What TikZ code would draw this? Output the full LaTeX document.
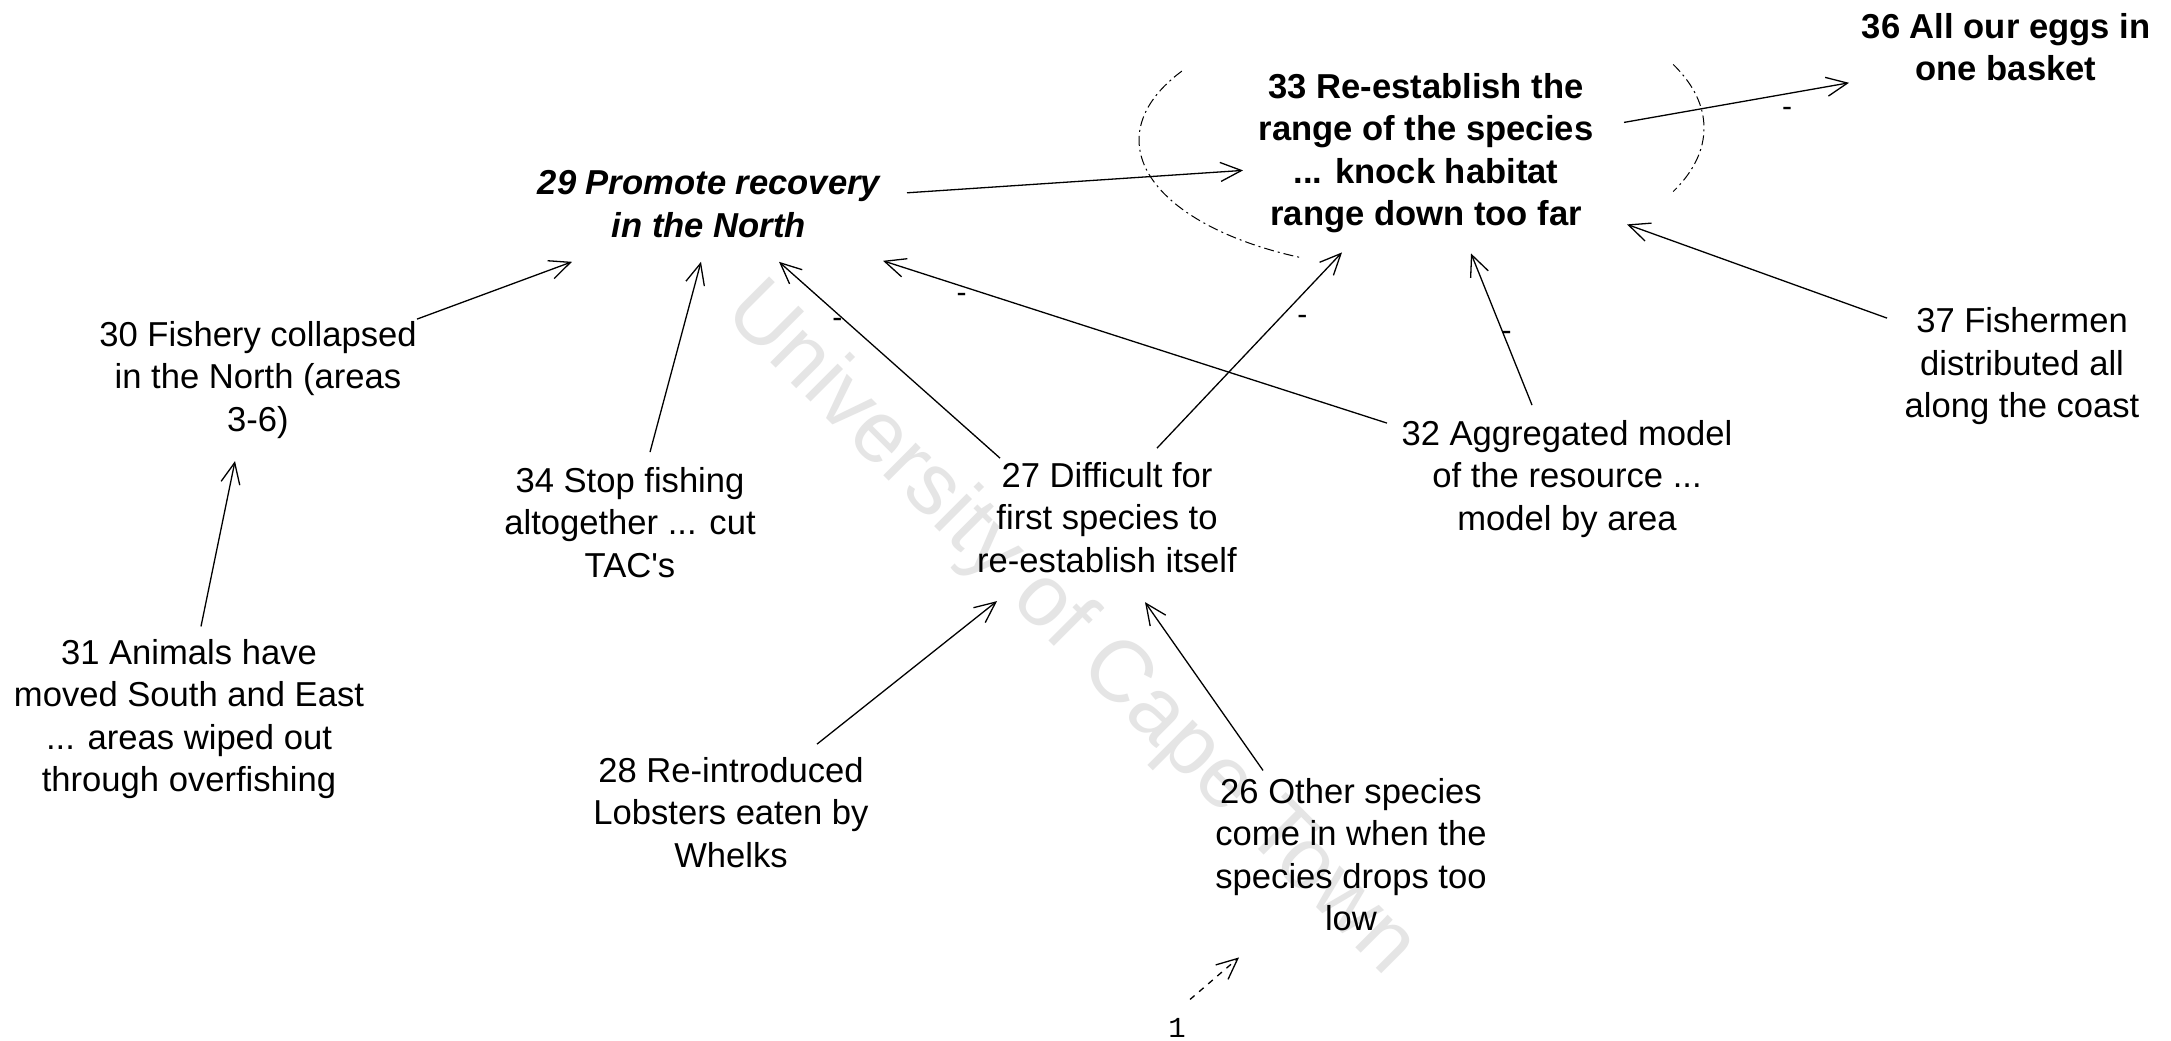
\documentclass[tikz,border=0pt]{standalone}
\usepackage{fontspec}
\setmainfont{Liberation Sans}
\newfontfamily\pagefont{Liberation Mono}
\usetikzlibrary{arrows.meta}

\begin{document}
\begin{tikzpicture}[x=0.5pt,y=-0.5pt,
  concept/.style={align=center, inner sep=0pt,
    font=\fontsize{17.3}{21.3}\selectfont,
    execute at begin node=\strut, execute at end node=\strut},
  strong/.style={concept, font=\fontsize{17.3}{21.3}\selectfont\bfseries},
  goal/.style={concept, font=\fontsize{17.3}{21.3}\selectfont\bfseries\itshape},
  link/.style={draw, line width=0.65pt,
    -{Straight Barb[length=10.5pt,width=9.5pt,line width=0.65pt]}},
  signlabel/.style={inner sep=0pt, font=\fontsize{15}{15}\selectfont},
  ringline/.style={line width=0.5pt, dash pattern=on 5pt off 2pt on 1pt off 2pt},
  stamptext/.style={text=black!10, font=\fontsize{43.5}{50}\selectfont}
]
\useasboundingbox (0,0) rectangle (2171,1040);
\fill[white] (0,0) rectangle (2171,1040);

% watermark behind the map
\node[stamptext, rotate=-45] (stamp) at (1070,630) {University of Cape Town};

% concepts
\node[goal]    (n29) at (709,210.3)  {29 Promote recovery\\in the North};
\node[strong]  (n33) at (1426,155.9) {33 Re-establish the\\range of the species\\... knock habitat\\range down too far};
\node[strong]  (n36) at (2006,53.3)  {36 All our eggs in\\one basket};
\node[concept] (n30) at (258,382.6)  {30 Fishery collapsed\\in the North (areas\\3-6)};
\node[concept] (n31) at (189,721.9)  {31 Animals have\\moved South and East\\... areas wiped out\\through overfishing};
\node[concept] (n34) at (630,528.6)  {34 Stop fishing\\altogether ... cut\\TAC\textquotesingle s};
\node[concept] (n27) at (1107,523.6) {27 Difficult for\\first species to\\re-establish itself};
\node[concept] (n32) at (1567,481.6) {32 Aggregated model\\of the resource ...\\model by area};
\node[concept] (n37) at (2022,369.1) {37 Fishermen\\distributed all\\along the coast};
\node[concept] (n28) at (731,818.6)  {28 Re-introduced\\Lobsters eaten by\\Whelks};
\node[concept] (n26) at (1351,860.9) {26 Other species\\come in when the\\species drops too\\low};
\node[inner sep=0pt, anchor=base, font=\pagefont\fontsize{14.5}{16}\selectfont] (pg) at (1177,1037) {1};

% dash-dotted ring around concept 33
\draw[ringline] (1421,140) ++(212:282 and 130)
  arc[start angle=212, end angle=115, x radius=282, y radius=130];
\draw[ringline] (1421,128) ++(-27:283 and 140)
  arc[start angle=-27, end angle=27, x radius=283, y radius=140];

% links
\draw[link] ([shift={(198,-17.5)}]n29.center) -- ([shift={(-183,14.5)}]n33.center);
\draw[link] ([shift={(198,-33.5)}]n33.center) -- node[signlabel, pos=0.711, shift={(3,18)}] {-} ([shift={(-157,29.5)}]n36.center);
\draw[link] ([shift={(159,-63.5)}]n30.center) -- ([shift={(-137,51.5)}]n29.center);
\draw[link] ([shift={(20,-76.5)}]n34.center) -- ([shift={(-8,51.5)}]n29.center);
\draw[link] ([shift={(-107,-65.5)}]n27.center) -- node[signlabel, pos=0.70, shift={(-8,2)}] {-} ([shift={(70,51.5)}]n29.center);
\draw[link] ([shift={(-180,-58.5)}]n32.center) -- node[signlabel, pos=0.836, shift={(-4,11)}] {-} ([shift={(174,50.5)}]n29.center);
\draw[link] ([shift={(50,-75.5)}]n27.center) -- node[signlabel, pos=0.715, shift={(13,12)}] {-} ([shift={(-84,96.5)}]n33.center);
\draw[link] ([shift={(-35,-76.5)}]n32.center) -- node[signlabel, pos=0.448, shift={(2,-1)}] {-} ([shift={(45,97.5)}]n33.center);
\draw[link] ([shift={(-135,-51)}]n37.center) -- ([shift={(201,68.5)}]n33.center);
\draw[link] ([shift={(12,-95.5)}]n31.center) -- ([shift={(-23,78.5)}]n30.center);
\draw[link] ([shift={(86,-74.5)}]n28.center) -- ([shift={(-110,77.5)}]n27.center);
\draw[link] ([shift={(-88,-90.5)}]n26.center) -- ([shift={(38,78.5)}]n27.center);
\draw[link, dash pattern=on 3pt off 3pt] ([shift={(13,-28)}]pg.center) -- ([shift={(-112,96.5)}]n26.center);
\end{tikzpicture}
\end{document}
